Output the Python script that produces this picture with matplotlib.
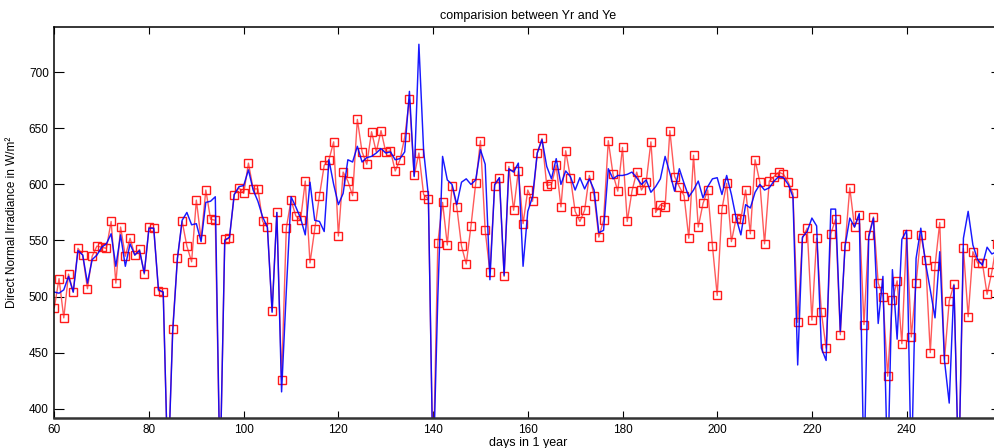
import numpy as np
import matplotlib
matplotlib.use('Agg')
import matplotlib.pyplot as plt

plt.rcParams['font.family'] = ['Liberation Sans', 'DejaVu Sans']

# days 60..259, values below the axis (~392) are clipped in the original
days = np.arange(60, 260)

# Ye - estimated (red, squares)
ye = [490, 516, 481, 520, 504, 543, 537, 507, 536, 545,
      544, 543, 567, 512, 562, 536, 552, 537, 542, 520,
      562, 561, 505, 504, 340, 471, 534, 567, 545, 531,
      586, 551, 595, 569, 568, 340, 551, 552, 591, 597,
      592, 619, 596, 596, 567, 562, 487, 575, 426, 561,
      586, 572, 568, 603, 530, 560, 590, 617, 622, 638,
      554, 611, 603, 590, 658, 629, 618, 647, 629, 648,
      629, 630, 612, 622, 642, 676, 608, 628, 591, 587,
      340, 548, 584, 546, 599, 580, 545, 529, 563, 601,
      639, 559, 522, 599, 606, 518, 616, 577, 612, 565,
      595, 585, 628, 641, 599, 600, 617, 580, 630, 606,
      576, 567, 577, 608, 590, 553, 568, 639, 609, 594,
      633, 567, 594, 611, 595, 602, 638, 575, 582, 580,
      648, 607, 598, 590, 552, 626, 562, 583, 595, 545,
      501, 578, 601, 549, 570, 569, 595, 556, 622, 602,
      547, 603, 607, 611, 609, 602, 592, 477, 552, 561,
      479, 552, 486, 454, 556, 569, 466, 545, 597, 562,
      573, 475, 555, 571, 512, 500, 429, 497, 514, 458,
      556, 464, 512, 555, 533, 450, 527, 566, 444, 496,
      511, 340, 543, 482, 540, 530, 530, 502, 522, 547]

# Yr - measured (blue line)
yr = [504, 503, 506, 518, 504, 541, 537, 512, 533, 537,
      544, 547, 556, 527, 555, 527, 547, 537, 541, 521,
      561, 561, 506, 504, 340, 468, 534, 568, 575, 564,
      565, 549, 584, 585, 589, 340, 550, 553, 591, 598,
      599, 613, 595, 585, 571, 562, 486, 575, 415, 505,
      589, 580, 570, 555, 602, 568, 567, 558, 622, 600,
      582, 592, 622, 620, 634, 620, 624, 625, 628, 632,
      628, 629, 622, 623, 629, 683, 607, 725, 630, 590,
      340, 500, 625, 604, 600, 582, 602, 605, 600, 604,
      631, 618, 515, 600, 606, 519, 614, 611, 619, 527,
      576, 589, 628, 640, 616, 605, 623, 600, 612, 607,
      595, 606, 596, 605, 595, 557, 559, 614, 605, 608,
      608, 609, 611, 606, 600, 604, 593, 598, 605, 625,
      610, 594, 614, 601, 589, 595, 603, 588, 598, 605,
      606, 591, 608, 591, 570, 555, 582, 579, 593, 600,
      595, 597, 603, 607, 606, 600, 589, 439, 553, 558,
      570, 563, 454, 443, 578, 578, 469, 545, 570, 562,
      574, 340, 553, 570, 476, 518, 340, 524, 462, 551,
      559, 340, 534, 561, 530, 506, 481, 540, 443, 405,
      510, 340, 552, 576, 546, 533, 528, 544, 538, 540]

fig = plt.figure(figsize=(9.94, 4.48), dpi=100)
ax = fig.add_axes([54.3 / 994, 1 - 418 / 448, (1001.3 - 54.3) / 994, 391 / 448])

ax.plot(days, ye, color='#ff5a5a', lw=1.0)
ax.plot(days, ye, ls='none', marker='s', ms=6.3, mfc='none', mec='#ff1a1a', mew=1.0)
ax.plot(days, yr, color='#0000ff', lw=1.05, alpha=0.9)

ax.set_xlim(60, 260)
ax.set_ylim(391.7, 740.4)
ax.set_xticks(np.arange(60, 260, 20))
ax.set_yticks(np.arange(400, 701, 50))
ax.tick_params(direction='in', top=True, right=True, labelsize=8.5, pad=4)
ax.tick_params(axis='y', length=7)
ax.tick_params(axis='x', length=5)
for s in ax.spines.values():
    s.set_linewidth(1.1)
ax.spines['bottom'].set_linewidth(1.8)
ax.spines['bottom'].set_color('#333333')

ax.set_title('comparision between Yr and Ye', fontsize=9, pad=6)
ax.set_xlabel('days in 1 year', fontsize=9, labelpad=1)
ax.set_ylabel('Direct Normal Irradiance in W/m\u00b2', fontsize=8.5, labelpad=8)

fig.savefig('out.png', dpi=100)
